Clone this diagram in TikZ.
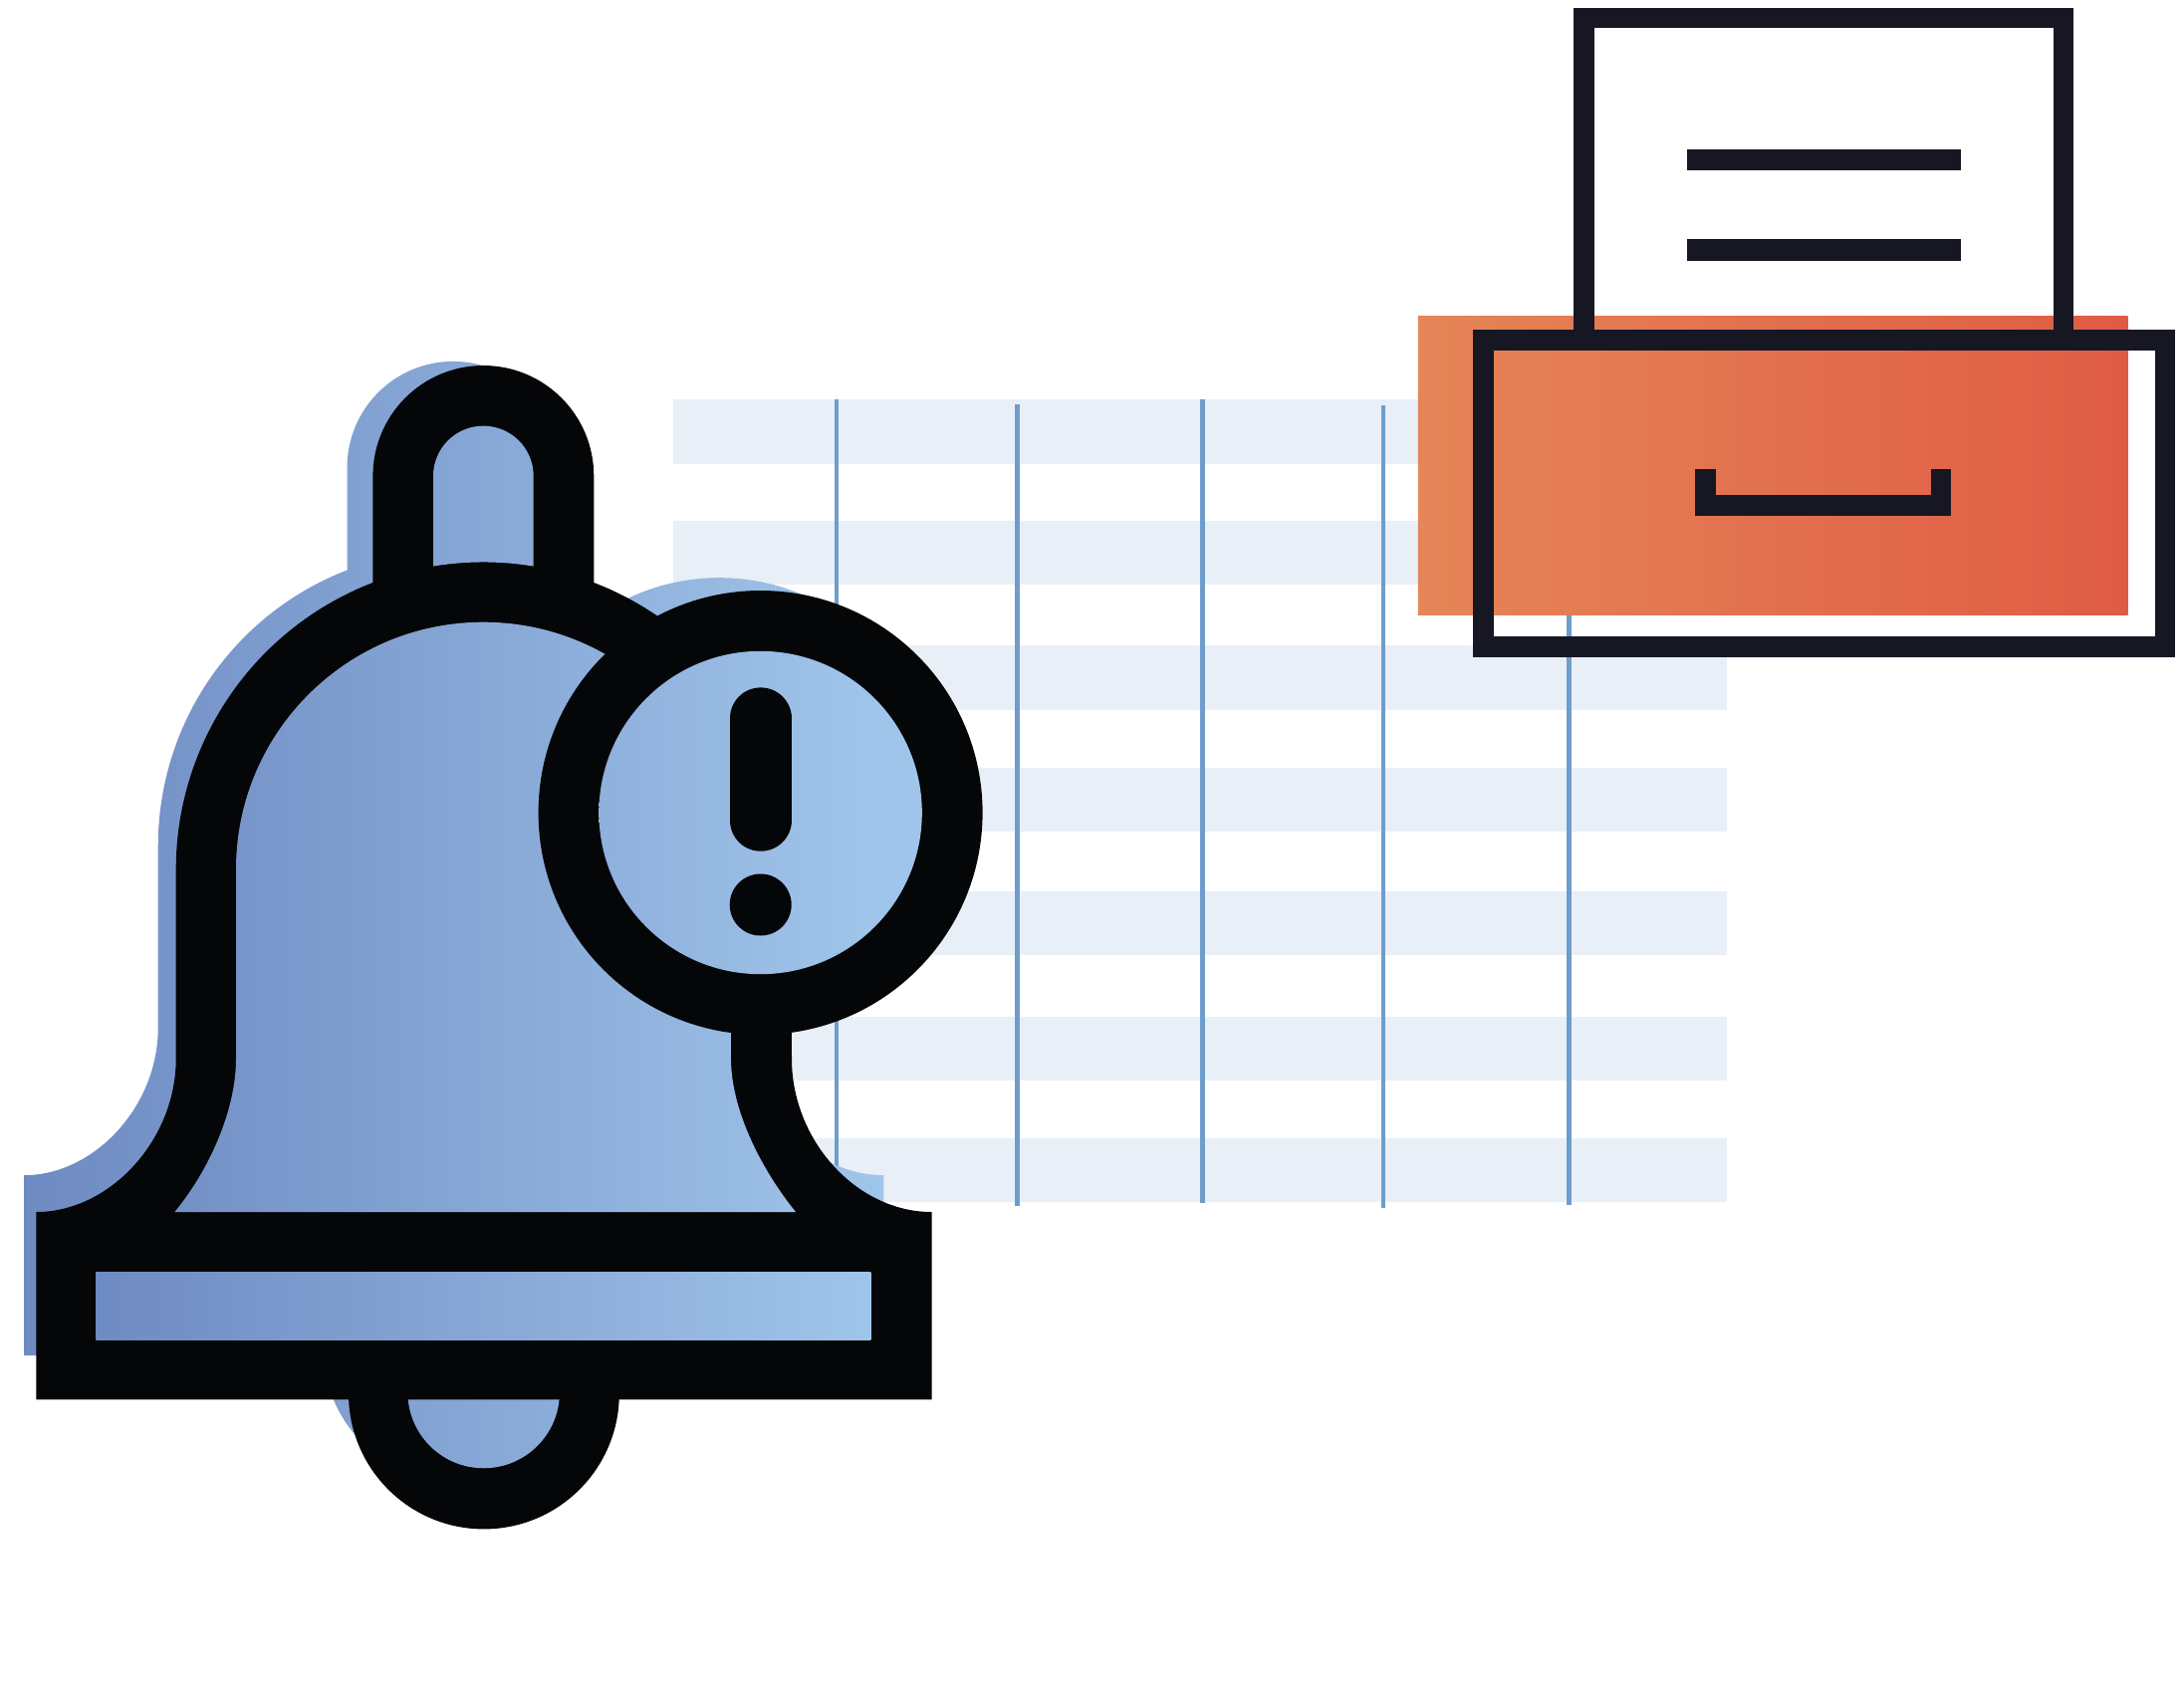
\documentclass[tikz,border=0pt]{standalone}
\definecolor{stripe}{HTML}{E9EFF7}
\definecolor{vline}{HTML}{6F9DCB}
\definecolor{gl}{HTML}{6E8AC2}
\definecolor{gr}{HTML}{A0C5EA}
\definecolor{ol}{HTML}{E58558}
\definecolor{or}{HTML}{DF5C44}
\definecolor{ink}{HTML}{171724}
\definecolor{bk}{HTML}{050608}
\def\pathA{(36.4,1405.3) -- (36.4,1217) .. controls (110,1217) and (176.7,1145) .. (176.7,1063) -- (176.7,873) arc[start angle=180,end angle=111.06,radius=308.6pt] -- (374.4,478) arc[start angle=180,end angle=0,radius=110.95pt] -- (596.3,585) arc[start angle=68.94,end angle=0,radius=308.6pt] -- (795,1063) .. controls (795,1145) and (860,1217) .. (935.6,1217) -- (935.6,1405.3) -- cycle}
\def\pathB{(763.6,816) circle[radius=223pt]}
\def\pathS{(734,1000) rectangle (795,1065)}
\def\pathC{(350,1399.5) arc[start angle=180,end angle=360,radius=135.9pt] -- cycle}
\def\inHandle{(435,568.6) -- (435,478) arc[start angle=180,end angle=0,radius=50.35pt] -- (535.7,568.6) arc[start angle=80.6,end angle=99.4,radius=308.6pt] -- cycle}
\def\inBody{(175.4,1217) .. controls (210,1175) and (237,1115) .. (237,1063) -- (237,873) arc[start angle=180,end angle=0,radius=248.3pt] -- (734,1063) .. controls (734,1115) and (765,1175) .. (799,1217) -- cycle}
\def\inBase{(96.3,1277.4) rectangle (874.4,1345)}
\def\inCircle{(763.6,816) circle[radius=162.2pt]}
\def\inClap{(409.4,1398) arc[start angle=180,end angle=360,radius=76.25pt] -- cycle}
\newcommand{\gradfill}[3]{\begin{scope}\clip #1;
  \fill[gl] (-200,-200) rectangle (#2,1900);
  \fill[gr] (#3,-200) rectangle (2400,1900);
  \shade[left color=gl,right color=gr] (#2,-200) rectangle (#3,1900);
\end{scope}}
\tikzset{inkline/.style={draw=ink,line width=20.6pt,miter limit=10},
  vrule/.style={draw=vline,line width=4.6pt}}
\begin{document}
\begin{tikzpicture}[x=1pt,y=-1pt]
\useasboundingbox (0,0) rectangle (2193,1695);
\fill[white] (0,0) rectangle (2193,1695);
% stripes
\foreach \a/\b in {401.4/465.7,523/587.4,647.5/713.3,770.6/835,895/959.4,1021/1085,1142.7/1207}
  \fill[stripe] (675.5,\a) rectangle (1734.3,\b);
% vertical rules
\draw[vrule] (840,401) -- (840,1200);
\draw[vrule] (1021.7,405.6) -- (1021.7,1211);
\draw[vrule] (1207.7,401.4) -- (1207.7,1208);
\draw[vrule] (1389,407) -- (1389,1212.6);
\draw[vrule] (1575.5,401) -- (1575.5,1210);
% shadow of the bell
\begin{scope}[cm={.96,0,0,.9615,(-10.9,10)}]
  \gradfill{\pathC}{36}{935}
  \gradfill{\pathA}{36}{935}
  \gradfill{\pathB}{36}{935}
\end{scope}
% bell
\fill[bk] \pathC;
\gradfill{\inClap}{90}{880}
\fill[bk] \pathA;
\gradfill{\inHandle}{90}{880}
\gradfill{\inBody}{90}{880}
\gradfill{\inBase}{90}{880}
\fill[bk] \pathS;
\fill[bk] \pathB;
\gradfill{\inCircle}{90}{880}
\draw[bk,line width=62pt,line cap=round] (763.7,721.4) -- (763.7,823.7);
\fill[bk] (763.7,908.5) circle[radius=31pt];
% tray
\shade[left color=ol,right color=or] (1423.8,317.4) rectangle (2136.5,617.9);
\draw[inkline] (1590.7,340) -- (1590.7,17.8) -- (2072,17.8) -- (2072,340);
\draw[inkline] (1489.3,341.5) rectangle (2174,649.5);
\fill[ink] (1694.4,150.4) rectangle (1968.5,171);
\fill[ink] (1694.4,240) rectangle (1968.5,261.6);
\draw[inkline] (1712.7,471) -- (1712.7,507.5) -- (1949,507.5) -- (1949,471);
\end{tikzpicture}
\end{document}
